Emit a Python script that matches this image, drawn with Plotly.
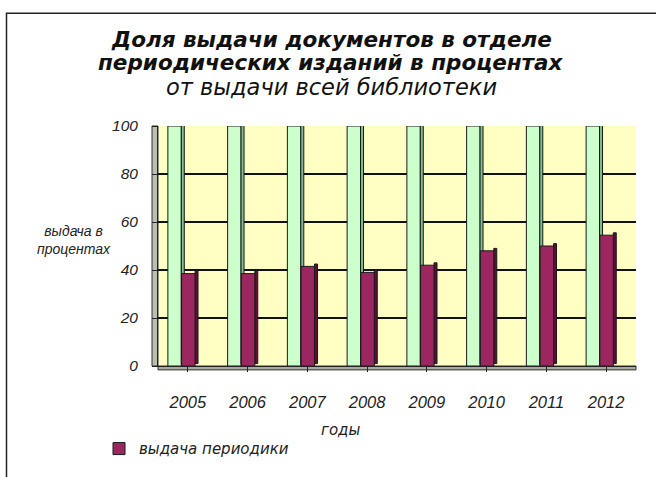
import plotly.graph_objects as go

years = ["2005", "2006", "2007", "2008", "2009", "2010", "2011", "2012"]
total_share = [100, 100, 100, 100, 100, 100, 100, 100]
periodicals_share = [38.5, 38.5, 41.5, 39, 42, 48, 50, 54.5]

FONT = "Liberation Sans, Arial, sans-serif"
WIDE = "DejaVu Sans, Liberation Sans, sans-serif"
GREEN = "#ccffcc"
GREEN_SIDE = "#7fbf8f"
RED = "#9c2760"
RED_SIDE = "#5e0f33"

fig = go.Figure()

# total library (100%) - front face and side face
fig.add_trace(go.Bar(x=years, y=total_share, width=0.225, offset=-0.335,
                     marker=dict(color=GREEN, line=dict(color="#1a1a1a", width=1)),
                     showlegend=False, hoverinfo="skip"))
fig.add_trace(go.Bar(x=years, y=total_share, width=0.05, offset=-0.11, base=0.8,
                     marker=dict(color=GREEN_SIDE, line=dict(color="#1a1a1a", width=1)),
                     showlegend=False, hoverinfo="skip"))
# periodicals share
fig.add_trace(go.Bar(x=years, y=periodicals_share, width=0.05, offset=0.12,
                     base=1.0,
                     marker=dict(color=RED_SIDE, line=dict(color="#1a1a1a", width=1)),
                     showlegend=False, hoverinfo="skip"))
fig.add_trace(go.Bar(x=years, y=periodicals_share, width=0.225, offset=-0.105,
                     name="выдача периодики",
                     marker=dict(color=RED, line=dict(color="#1a1a1a", width=1))))

def px(x):
    return (x - 158) / 478

def py(y):
    return 1 - (y - 126) / 246

title_lines = [
    ("<b>Доля выдачи документов в отделе</b>", 37, 21.5),
    ("<b>периодических изданий в процентах</b>", 61, 21.5),
    ("от выдачи всей библиотеки", 86, 22.5),
]
ann = []
for text, yy, sz in title_lines:
    ann.append(dict(text=text, xref="paper", yref="paper", x=px(331), y=py(yy),
                    xanchor="center", yanchor="middle", showarrow=False,
                    font=dict(family=WIDE, size=sz, color="#111", style="italic")))
ann.append(dict(text="выдача в<br>процентах", xref="paper", yref="paper",
                x=px(74), y=py(243), xanchor="center", yanchor="middle",
                showarrow=False, align="center",
                font=dict(family=FONT, size=14, color="#222", style="italic")))
ann.append(dict(text="годы", xref="paper", yref="paper", x=px(340), y=py(438),
                xanchor="center", yanchor="middle", showarrow=False,
                font=dict(family=WIDE, size=15, color="#222", style="italic")))

shapes = [
    dict(type="rect", xref="paper", yref="paper",
         x0=px(6.5), x1=px(700), y0=py(520), y1=py(10.5),
         line=dict(color="#222", width=1.5), fillcolor="rgba(0,0,0,0)", layer="below"),
    dict(type="rect", xref="paper", yref="paper",
         x0=px(152), x1=0, y0=0, y1=1,
         line=dict(color="#333", width=1), fillcolor="#bdbdb0", layer="below"),
    dict(type="rect", xref="paper", yref="paper",
         x0=0, x1=1, y0=py(376), y1=0,
         line=dict(color="#333", width=1), fillcolor="#a8a8a0", layer="below"),
]

fig.update_layout(
    width=656, height=477,
    margin=dict(l=158, r=20, t=126, b=105),
    paper_bgcolor="white",
    plot_bgcolor="#ffffc4",
    barmode="overlay",
    font=dict(family=FONT, color="#222"),
    annotations=ann,
    shapes=shapes,
    showlegend=True,
    legend=dict(x=px(99), y=py(440), xanchor="left", yanchor="top",
                font=dict(family=WIDE, size=15, color="#222", style="italic"),
                bgcolor="rgba(0,0,0,0)", itemwidth=30),
    xaxis=dict(type="category", range=[-0.5, 7.5], showgrid=False,
               ticks="outside", ticklen=5, tickcolor="#222",
               tickfont=dict(family=FONT, size=16.5, color="#222", style="italic"),
               showline=True, linecolor="#222", linewidth=1, ticklabelstandoff=16),
    yaxis=dict(range=[0, 100], dtick=20, showgrid=True, gridcolor="#111", gridwidth=1.5,
               ticks="outside", ticklen=5, tickcolor="#222",
               tickfont=dict(family=FONT, size=15.5, color="#222", style="italic"),
               showline=True, linecolor="#222", linewidth=1, zeroline=False,
               ticklabelstandoff=11),
)

fig.write_html("out.html")
